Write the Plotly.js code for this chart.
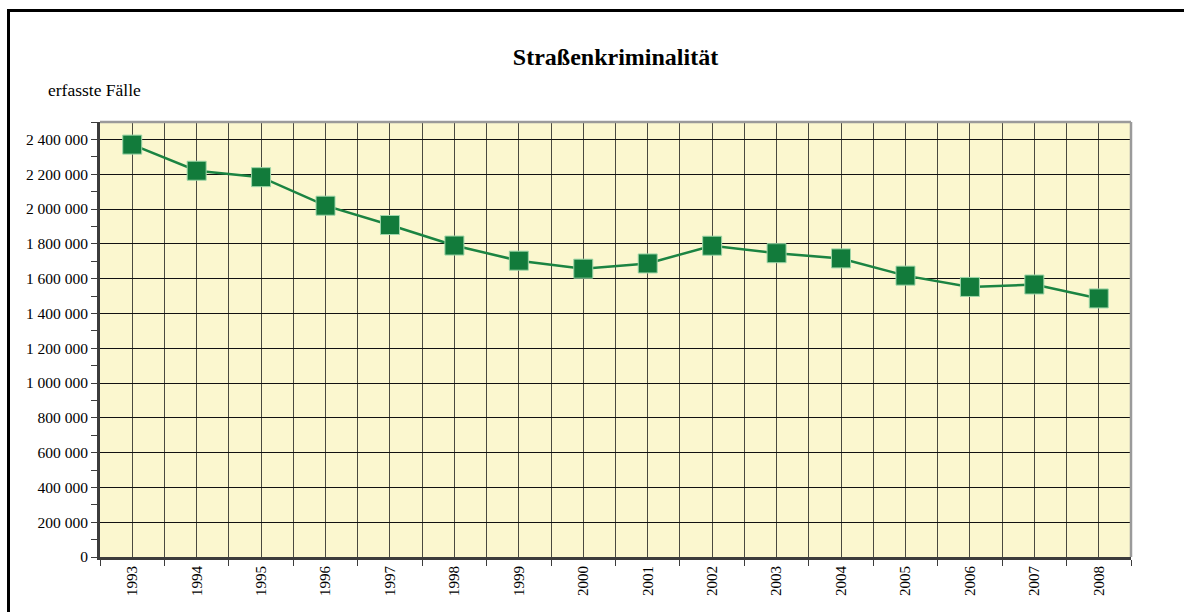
<!DOCTYPE html>
<html>
<head>
<meta charset="utf-8">
<script src="https://cdn.plot.ly/plotly-3.0.1.min.js"></script>
<style>
  html, body { margin: 0; padding: 0; background: #fff; overflow: hidden; }
  #wrap { position: relative; width: 1184px; height: 612px; overflow: hidden; }
  #chart { width: 1184px; height: 612px; }
  .rule { position: absolute; background: #000; pointer-events: none; }
  #ruleTop { left: 7px; top: 9px; width: 1177px; height: 3px; }
  #ruleLeft { left: 7px; top: 9px; width: 3px; height: 603px; }
</style>
</head>
<body>
<div id="wrap">
  <div id="chart"></div>
  <div class="rule" id="ruleTop"></div>
  <div class="rule" id="ruleLeft"></div>
</div>
<script>
// Straßenkriminalität, erfasste Fälle
var jahre = [1993, 1994, 1995, 1996, 1997, 1998, 1999, 2000,
             2001, 2002, 2003, 2004, 2005, 2006, 2007, 2008];
var faelle = [2370000, 2220000, 2183000, 2019000, 1908000, 1790000, 1703000, 1657000,
              1687000, 1789000, 1746000, 1716000, 1617000, 1552000, 1566000, 1486000];
var yTicks = [0, 200000, 400000, 600000, 800000, 1000000, 1200000,
              1400000, 1600000, 1800000, 2000000, 2200000, 2400000];

var serif = 'Liberation Serif, Times New Roman, serif';

var strasse = {
  x: jahre,
  y: faelle,
  mode: 'lines+markers',
  type: 'scatter',
  line: { color: '#1b8442', width: 2.5 },
  marker: {
    symbol: 'square',
    size: 19,
    color: '#127b3b',
    line: { color: '#9ed6a8', width: 1 }
  },
  hoverinfo: 'x+y'
};

var layout = {
  width: 1184,
  height: 612,
  margin: { l: 100, r: 53, t: 122, b: 55 },
  paper_bgcolor: 'rgba(0,0,0,0)',
  plot_bgcolor: '#fbf7cf',
  separators: ', ',
  showlegend: false,
  font: { family: serif, color: '#000', size: 15 },
  title: {
    text: '<b>Straßenkriminalität</b>',
    font: { family: serif, size: 24, color: '#000' },
    x: 0.5, xref: 'paper',
    y: 0.908, yref: 'container', yanchor: 'middle'
  },
  xaxis: {
    range: [1992.5, 2008.5],
    tickmode: 'array',
    tickvals: jahre,
    ticktext: jahre.map(String),
    tickangle: -90,
    ticks: '',
    showgrid: true,
    gridcolor: '#4a4a40',
    gridwidth: 1,
    showline: true,
    linecolor: '#3c3c3c',
    linewidth: 3,
    zeroline: false,
    tickfont: { family: serif, size: 15 },
    minor: {
      tickmode: 'linear', tick0: 1992.5, dtick: 1,
      ticks: 'outside', ticklen: 6, tickcolor: '#3c3c3c', tickwidth: 1,
      showgrid: true, gridcolor: '#4a4a40', gridwidth: 1
    }
  },
  yaxis: {
    range: [0, 2500000],
    tickmode: 'array',
    tickvals: yTicks,
    tickformat: ',d',
    ticks: 'outside',
    ticklen: 6,
    tickcolor: '#3c3c3c',
    showgrid: true,
    gridcolor: '#111',
    gridwidth: 1,
    showline: true,
    linecolor: '#3c3c3c',
    linewidth: 3,
    zeroline: false,
    tickfont: { family: serif, size: 15.5 },
    minor: {
      tickmode: 'linear', tick0: 100000, dtick: 200000,
      ticks: 'outside', ticklen: 6, tickcolor: '#3c3c3c', showgrid: false
    }
  },
  shapes: [
    { type: 'line', xref: 'paper', yref: 'paper', x0: 0, x1: 1, y0: 1, y1: 1,
      line: { color: '#9a9a9a', width: 2.5 } },
    { type: 'line', xref: 'paper', yref: 'paper', x0: 1, x1: 1, y0: 0, y1: 1,
      line: { color: '#9a9a9a', width: 2.5 } }
  ],
  annotations: [
    { text: 'erfasste Fälle', xref: 'paper', yref: 'paper',
      x: -0.052, y: 1.047, xanchor: 'left', yanchor: 'bottom', showarrow: false,
      font: { family: serif, size: 17.5, color: '#000' } }
  ]
};

Plotly.newPlot('chart', [strasse], layout, { displayModeBar: false, staticPlot: true });
</script>
</body>
</html>
